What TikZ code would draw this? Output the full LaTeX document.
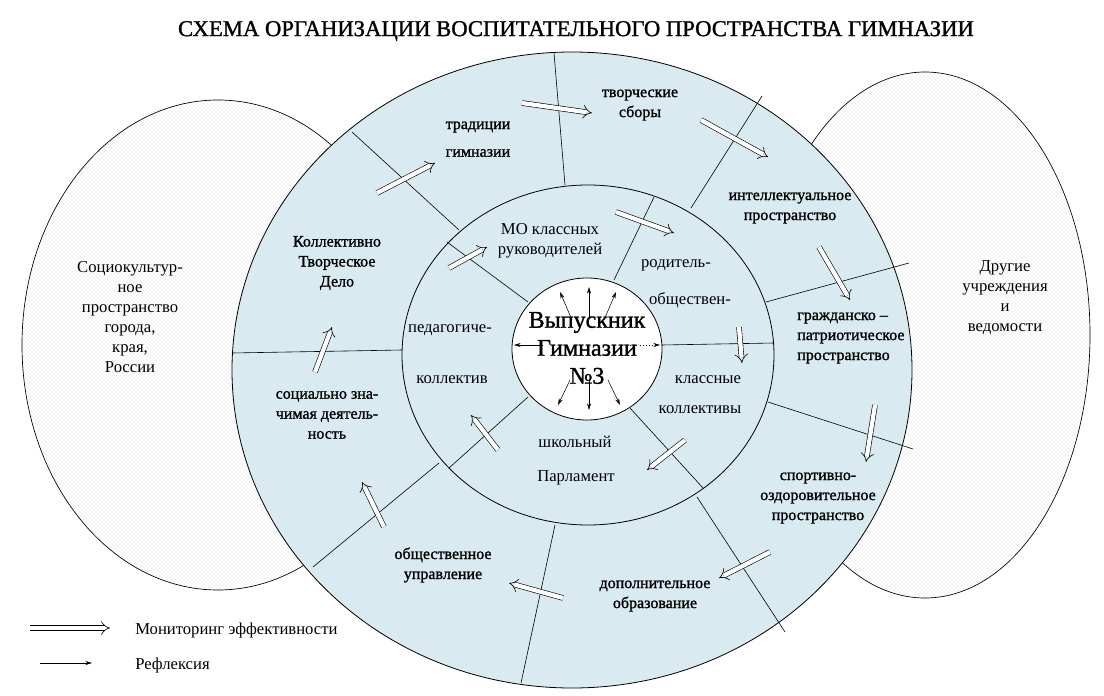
\documentclass[tikz,border=0pt]{standalone}
\usepackage{fontspec}
\setmainfont{Liberation Serif}
\newfontfamily\bserif{Liberation Serif}[FakeBold=1.2]
\usetikzlibrary{arrows.meta,patterns}
\definecolor{ringblue}{RGB}{218,234,241}
\tikzset{
  hollow/.style={double, double distance=3.2pt, line width=0.45pt, -{Implies}},
  thin arrow/.style={line width=0.4pt, -{Stealth[length=5pt,width=3pt]}},
  blab/.style={font=\bserif\fontsize{12}{15}\selectfont, align=center, inner sep=0pt},
  rlab/.style={font=\fontsize{12.5}{15}\selectfont, align=center, inner sep=0pt},
  divider/.style={line width=0.45pt},
  side/.style={draw, line width=0.5pt, pattern=crosshatch dots, pattern color=gray!35},
}
\begin{document}
\begin{tikzpicture}[x=0.75pt,y=-0.75pt]
\useasboundingbox (0,0) rectangle (1104,696);
% side circles
\draw[side] (218,345) ellipse [x radius=196, y radius=245];
\draw[side] (925,335) ellipse [x radius=165, y radius=263];
% outer ring
\draw[fill=ringblue, line width=0.6pt] (572,370) ellipse [x radius=340, y radius=318];
\draw[line width=0.6pt] (588,355) ellipse [x radius=186, y radius=170];
\draw[fill=white, line width=0.6pt] (587,349) ellipse [x radius=75, y radius=71];
% outer dividers
\draw[divider] (352,132) -- (459,230);
\draw[divider] (554,53) -- (565,185);
\draw[divider] (762,96) -- (691,208);
\draw[divider] (909,263) -- (766,302);
\draw[divider] (232,353) -- (402,350);
\draw[divider] (768,402) -- (913,449);
\draw[divider] (697,497) -- (785,632);
\draw[divider] (555,525) -- (521,683);
\draw[divider] (439,463) -- (313,567);
% inner dividers
\draw[divider] (447,242) -- (528,302);
\draw[divider] (654,197) -- (614,280);
\draw[divider] (662,345) -- (774,343);
\draw[divider] (528,397) -- (449,468);
\draw[divider] (630,408) -- (703,488);
% hollow arrows
\draw[hollow] (522,103) -- (592,113);
\draw[hollow] (701,120) -- (768,157);
\draw[hollow] (377,193) -- (435,163);
\draw[hollow] (449,268) -- (487,247);
\draw[hollow] (616,212) -- (674,233);
\draw[hollow] (819,247) -- (850,300);
\draw[hollow] (739,327) -- (742,363);
\draw[hollow] (315,372) -- (332,327);
\draw[hollow] (875,405) -- (866,462);
\draw[hollow] (685,440) -- (647,470);
\draw[hollow] (498,450) -- (471,415);
\draw[hollow] (770,552) -- (719,578);
\draw[hollow] (563,598) -- (509,583);
\draw[hollow] (384,527) -- (362,482);
% center thin arrows
\draw[thin arrow] (589,317) -- (589,287);
\draw[thin arrow] (572,320) -- (560,292);
\draw[thin arrow] (604,320) -- (616,292);
\draw[thin arrow] (543,345) -- (514,345);
\draw[thin arrow, dotted] (630,345) -- (660,345);
\draw[thin arrow] (589,380) -- (589,410);
\draw[thin arrow] (570,380) -- (558,405);
\draw[thin arrow] (608,380) -- (620,405);
% title
\node[font=\bserif\fontsize{17}{20}\selectfont, inner sep=0pt] (title) at (576,31) {СХЕМА ОРГАНИЗАЦИИ ВОСПИТАТЕЛЬНОГО ПРОСТРАНСТВА ГИМНАЗИИ};
% center
\node[font=\bserif\fontsize{18}{21}\selectfont, align=center, inner sep=0pt] (grad) at (587,348) {Выпускник\\Гимназии\\№3};
% outer ring labels
\node[blab] (trad1) at (478,127) {традиции};
\node[blab] (trad2) at (478,153) {гимназии};
\node[blab] (tvor) at (640,105) {творческие\\сборы};
\node[blab] (intel) at (790,208) {интеллектуальное\\пространство};
\node[blab] (ktd) at (337,263) {Коллективно\\Творческое\\Дело};
\node[blab, align=left, anchor=west] (grazh) at (797,338) {гражданско –\\патриотическое\\пространство};
\node[blab] (soc) at (327,415) {социально зна-\\чимая деятель-\\ность};
\node[blab] (sport) at (818,498) {спортивно-\\оздоровительное\\пространство};
\node[blab] (obsch) at (443,565) {общественное\\управление};
\node[blab] (dop) at (655,596) {дополнительное\\образование};
% inner ring labels
\node[rlab] (mo) at (550,241) {МО классных\\руководителей};
\node[rlab] (rod1) at (676,265) {родитель-};
\node[rlab] (rod2) at (690,300) {обществен-};
\node[rlab] (ped1) at (450,330) {педагогиче-};
\node[rlab] (ped2) at (452,380) {коллектив};
\node[rlab] (kl1) at (708,380) {классные};
\node[rlab] (kl2) at (700,410) {коллективы};
\node[rlab] (sh1) at (575,442) {школьный};
\node[rlab] (sh2) at (576,478) {Парламент};
% side labels
\node[rlab] (left) at (130,317) {Социокультур-\\ное\\пространство\\города,\\края,\\России};
\node[rlab] (right) at (1005,298) {Другие\\учреждения\\и\\ведомости};
% legend
\coordinate (l1a) at (30,628); \coordinate (l1b) at (110,628);
\coordinate (l2a) at (40,663); \coordinate (l2b) at (92,663);
\draw[hollow] (l1a) -- (l1b);
\draw[thin arrow] (l2a) -- (l2b);
\node[rlab, anchor=west] (leg1) at (135,630) {Мониторинг эффективности};
\node[rlab, anchor=west] (leg2) at (135,665) {Рефлексия};
\end{tikzpicture}
\end{document}
